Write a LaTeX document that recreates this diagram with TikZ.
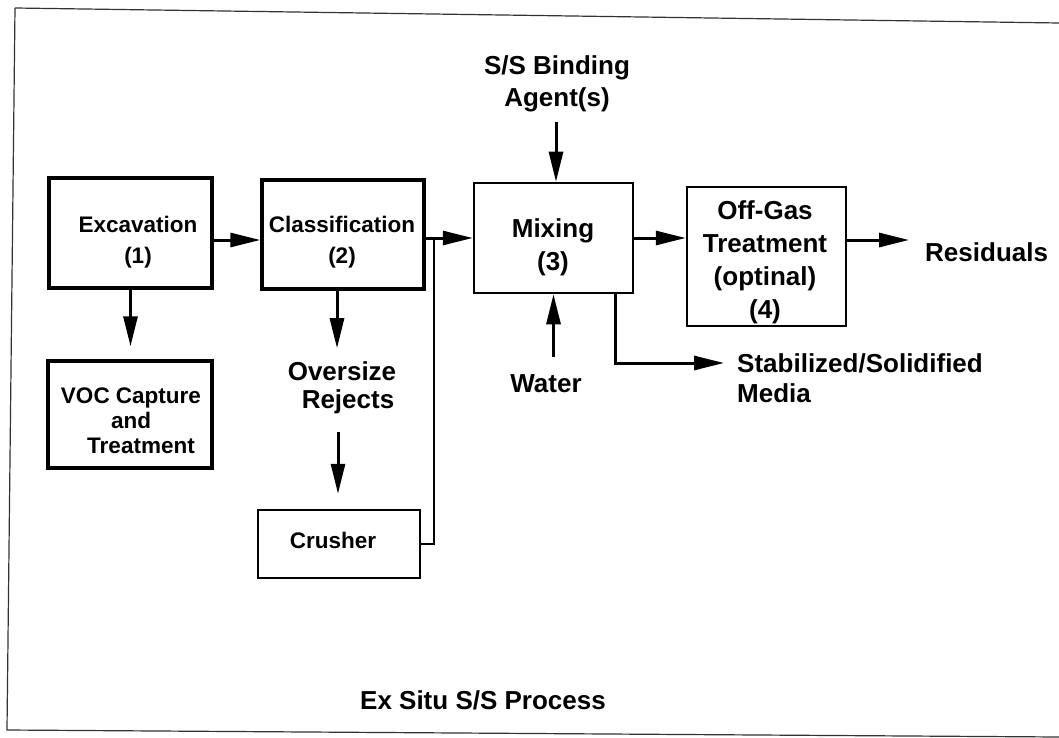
\documentclass[tikz,border=0pt]{standalone}
\usepackage{fontspec}
\setmainfont{Liberation Sans}
\usetikzlibrary{arrows.meta}
\begin{document}
\begin{tikzpicture}[x=1pt,y=-1pt,
  box/.style={draw, line width=2.5pt, inner sep=0pt},
  heavybox/.style={draw, line width=3.5pt, inner sep=0pt},
  sm/.style={font=\bfseries\fontsize{22.5}{#1}\selectfont, inner sep=0pt, align=center},
  lg/.style={font=\bfseries\fontsize{26}{#1}\selectfont, inner sep=0pt, align=center},
  arr/.style={line width=3pt, -{Triangle[length=30pt,width=14pt]}},
  thinline/.style={line width=2.5pt},
  frame/.style={line width=1.2pt, black!80}]
\useasboundingbox (0,0) rectangle (1059,738);
% frame
\draw[frame] (15,8) -- (1059,23);
\draw[frame] (15,8) -- (7,730) -- (1059,737);
% boxes
\node[heavybox, minimum width=163pt, minimum height=110pt] (exc) at (130.5,233) {};
\node[heavybox, minimum width=162pt, minimum height=109pt] (cls) at (343,234.5) {};
\node[box, minimum width=159pt, minimum height=110pt] (mix) at (553.5,238) {};
\node[box, minimum width=159pt, minimum height=139pt] (gas) at (766.5,256.5) {};
\node[heavybox, minimum width=164pt, minimum height=107pt] (voc) at (130,414.5) {};
\node[box, minimum width=162pt, minimum height=68pt] (cru) at (339,544) {};
% texts
\node[sm=31] (exct) at (138,242) {Excavation\\(1)};
\node[sm=31] (clst) at (342,242) {Classification\\(2)};
\node[lg=33] (mixt) at (553,247) {Mixing\\(3)};
\node[lg=33] (gast) at (765,262) {Off-Gas\\Treatment\\(optinal)\\(4)};
\node[sm=25] (voct) at (131,421) {VOC Capture\\and\\\hspace*{20pt}Treatment};
\node[sm=25] (crut) at (333,540) {Crusher};
\node[lg=32] (bind) at (557,83.5) {S/S Binding\\Agent(s)};
\node[lg=28] (over) at (342,387.5) {Oversize\\\hspace*{12pt}Rejects};
\node[lg=30] (water) at (546,384) {Water};
\node[lg=30, align=left, anchor=west] (stab) at (737,378) {Stabilized/Solidified\\Media};
\node[lg=30, anchor=west] (res) at (925,252) {Residuals};
\node[lg=30] (title) at (483,700) {Ex Situ S/S Process};
% connectors
\draw[arr] ([yshift=-7pt]exc.east) -- ([yshift=-5.5pt]cls.west);
\draw[arr] ([yshift=-3.5pt]cls.east) -- (mix.west);
\draw[arr] (mix.east) -- (mix.east -| gas.west);
\draw[arr] ([yshift=16.5pt]gas.east) -- ([xshift=-16pt,yshift=12pt]res.west);
\draw[arr, shorten <=10pt] ([xshift=-1pt]bind.south) -- ([xshift=-1pt]bind.south |- mix.north);
\draw[arr, shorten <=18pt] (mix.south |- water.north) -- (mix.south);
\draw[arr] ([xshift=61.5pt]mix.south) |- ([xshift=-13pt,yshift=15pt]stab.west);
\draw[arr] (exc.south) -- ([yshift=13pt]exc.south |- voc.north);
\draw[arr, shorten >=13pt] ([xshift=-6pt]cls.south) -- ([xshift=-6pt]cls.south |- over.north);
\draw[arr, shorten <=18pt, shorten >=15pt] ([xshift=-4pt]over.south) -- ([xshift=-4pt]over.south |- cru.north);
\draw[thinline] (cru.east) -| ([xshift=8pt,yshift=-3.5pt]cls.east);
\end{tikzpicture}
\end{document}
